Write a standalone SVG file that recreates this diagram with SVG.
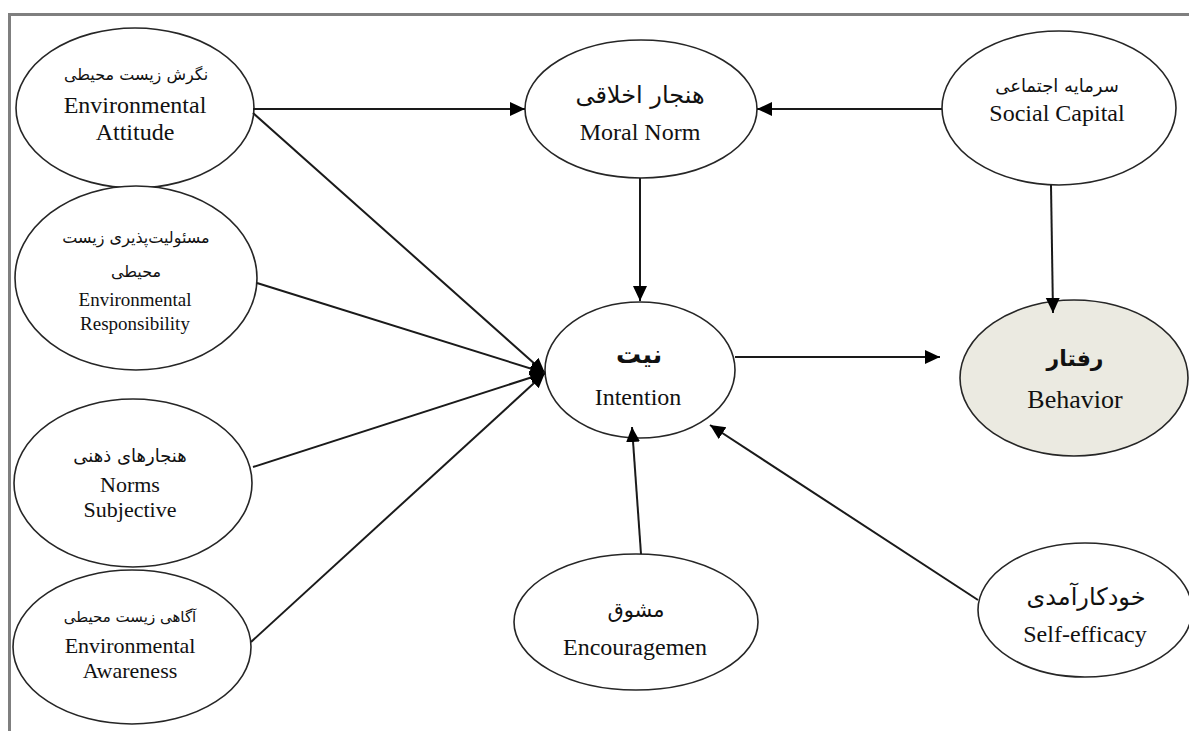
<svg xmlns="http://www.w3.org/2000/svg" width="1189" height="731" viewBox="0 0 1189 731">
<style>
  .node { fill: #ffffff; stroke: #262626; stroke-width: 1.6; }
  .node.dv { fill: #ebeae1; }
  .en { font-family: "Liberation Serif", "Times New Roman", serif; font-size: 24px; fill: #111; text-anchor: middle; }
  .en.sm { font-size: 19px; }
  .en.md { font-size: 22px; }
  .en.lg { font-size: 26px; }
  .fa { font-family: "DejaVu Sans", "Noto Sans", sans-serif; font-size: 16px; fill: #111; text-anchor: middle; }
  .fa.b { font-weight: bold; font-size: 25px; }
  .fa.bb { font-weight: bold; font-size: 22px; }
  .edge { stroke: #1a1a1a; stroke-width: 2; fill: none; marker-end: url(#arrow); }
  .frame { stroke: #7f7f7f; stroke-width: 3; fill: none; }
</style>
<defs>
  <marker id="arrow" markerUnits="userSpaceOnUse" markerWidth="16" markerHeight="16" refX="15" refY="7" orient="auto">
    <path d="M0,0 L15,7 L0,14 Z" fill="#000"/>
  </marker>
</defs>
<rect width="1189" height="731" fill="#ffffff"/>
<path class="frame" d="M9.5,731 L9.5,14.5 L1189,14.5"/>

<g id="env-attitude">
  <ellipse class="node" cx="135" cy="108" rx="119" ry="80"/>
  <text class="fa" x="136" y="80" direction="rtl">نگرش زیست محیطی</text>
  <text class="en" x="135" y="113">Environmental</text>
  <text class="en" x="135" y="140">Attitude</text>
</g>

<g id="env-responsibility">
  <ellipse class="node" cx="136" cy="278" rx="121" ry="92"/>
  <text class="fa" x="136" y="243" direction="rtl">مسئولیت‌پذیری زیست</text>
  <text class="fa" x="136" y="277" direction="rtl">محیطی</text>
  <text class="en sm" x="135" y="306">Environmental</text>
  <text class="en sm" x="135" y="330">Responsibility</text>
</g>

<g id="norms-subjective">
  <ellipse class="node" cx="133" cy="483" rx="119" ry="84"/>
  <text class="fa" x="130" y="462" direction="rtl" style="font-size:18px">هنجارهای ذهنی</text>
  <text class="en md" x="130" y="492">Norms</text>
  <text class="en md" x="130" y="517">Subjective</text>
</g>

<g id="env-awareness">
  <ellipse class="node" cx="132" cy="647" rx="119" ry="77"/>
  <text class="fa" x="130" y="622" direction="rtl" style="font-size:15px">آگاهی زیست محیطی</text>
  <text class="en md" x="130" y="653">Environmental</text>
  <text class="en md" x="130" y="678">Awareness</text>
</g>

<g id="moral-norm">
  <ellipse class="node" cx="641" cy="109" rx="116" ry="69"/>
  <text class="fa" x="640" y="103" direction="rtl" style="font-size:24px">هنجار اخلاقی</text>
  <text class="en" x="640" y="140">Moral Norm</text>
</g>

<g id="social-capital">
  <ellipse class="node" cx="1059" cy="108" rx="117" ry="77"/>
  <text class="fa" x="1057" y="92" direction="rtl" style="font-size:18px">سرمایه اجتماعی</text>
  <text class="en" x="1057" y="121">Social Capital</text>
</g>

<g id="intention">
  <ellipse class="node" cx="640" cy="370" rx="95" ry="68"/>
  <text class="fa b" x="639" y="363" direction="rtl">نیت</text>
  <text class="en" x="638" y="405">Intention</text>
</g>

<g id="behavior">
  <ellipse class="node dv" cx="1074" cy="378" rx="114" ry="78"/>
  <text class="fa bb" x="1075" y="366" direction="rtl">رفتار</text>
  <text class="en lg" x="1075" y="408">Behavior</text>
</g>

<g id="encouragement">
  <ellipse class="node" cx="636" cy="622" rx="122" ry="68"/>
  <text class="fa" x="636" y="617" direction="rtl" style="font-size:21px">مشوق</text>
  <text class="en" x="635" y="655">Encouragemen</text>
</g>

<g id="self-efficacy">
  <ellipse class="node" cx="1085" cy="610" rx="107" ry="67"/>
  <text class="fa" x="1086" y="605" direction="rtl" style="font-size:24px">خودکارآمدی</text>
  <text class="en" x="1085" y="642">Self-efficacy</text>
</g>

<g id="connectors">
  <line class="edge" x1="253" y1="109" x2="525" y2="109"/>
  <line class="edge" x1="942" y1="109" x2="757" y2="109"/>
  <line class="edge" x1="640" y1="178" x2="640" y2="301"/>
  <line class="edge" x1="1051" y1="185" x2="1053" y2="313"/>
  <line class="edge" x1="735" y1="357" x2="940" y2="357"/>
  <line class="edge" x1="253" y1="113" x2="545" y2="373"/>
  <line class="edge" x1="257" y1="283" x2="545" y2="373"/>
  <line class="edge" x1="253" y1="467" x2="545" y2="373"/>
  <line class="edge" x1="251" y1="642" x2="545" y2="373"/>
  <line class="edge" x1="641" y1="554" x2="632" y2="427"/>
  <line class="edge" x1="978" y1="600" x2="710" y2="425"/>
</g>
</svg>
